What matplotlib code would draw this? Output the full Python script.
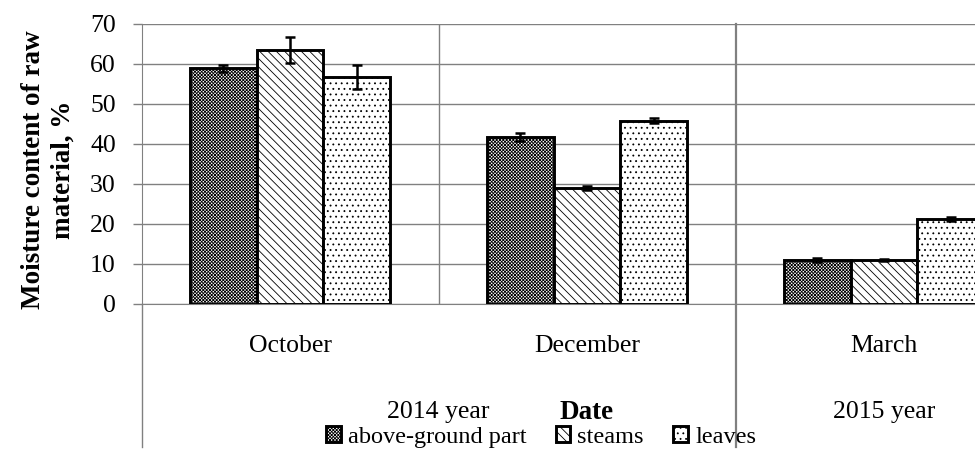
import numpy as np
import matplotlib
matplotlib.use("Agg")
import matplotlib.pyplot as plt
import matplotlib.transforms as mtransforms

plt.rcParams['font.family'] = ['Liberation Serif', 'DejaVu Serif']
plt.rcParams['hatch.linewidth'] = 0.6

months = ['October', 'December', 'March']
series = ['above-ground part', 'steams', 'leaves']
above_ground = [58.9, 41.8, 11.0]
steams = [63.5, 29.0, 11.0]
leaves = [56.7, 45.8, 21.2]
above_ground_err = [0.9, 1.0, 0.4]
steams_err = [3.3, 0.5, 0.3]
leaves_err = [3.0, 0.6, 0.5]
years = ['2014 year', '2015 year']

values = [above_ground, steams, leaves]
errors = [above_ground_err, steams_err, leaves_err]
hatches = ['xxxxxxxxxx', '\\\\\\\\', '...']
GREY = '#808080'

fig = plt.figure(figsize=(9.75, 4.49), dpi=100)
ax = fig.add_axes([141.5 / 975, 145 / 449, 891 / 975, 280 / 449])

x = np.arange(len(months))
width = 0.224
for i, (vals, errs) in enumerate(zip(values, errors)):
    ax.bar(x + (i - 1) * width, vals, width, yerr=errs, label=series[i],
           color='white', edgecolor='black', linewidth=2.1, hatch=hatches[i],
           zorder=3, error_kw=dict(ecolor='black', elinewidth=1.8,
                                   capsize=3.8, capthick=1.8, zorder=4))

ax.set_xlim(-0.5, 2.5)
ax.set_ylim(0, 70)
ax.set_yticks(range(0, 80, 10))
ax.yaxis.grid(True, color=GREY, linewidth=1)
ax.set_axisbelow(True)
ax.tick_params(axis='y', direction='out', length=6.5, width=1, color=GREY,
               labelsize=18.5, pad=12)
ax.set_xticks(x, months)
ax.tick_params(axis='x', length=0, labelsize=18.5, pad=22)
for s in ['top', 'right']:
    ax.spines[s].set_visible(False)
ax.spines['left'].set_color(GREY)
ax.spines['bottom'].set_color(GREY)

# month / year separators
ax.axvline(0.5, color=GREY, linewidth=1, zorder=1)
trans = mtransforms.blended_transform_factory(ax.transData, ax.transAxes)
ax.plot([1.5, 1.5], [1.0, -0.51], transform=trans, color=GREY,
        linewidth=1.6, clip_on=False, zorder=1)
ax.plot([-0.5, -0.5], [0.0, -0.51], transform=trans, color=GREY,
        linewidth=1, clip_on=False)

ax.text(0.5, -0.386, years[0], transform=trans, ha='center', va='center', fontsize=18.5)
ax.text(2.0, -0.386, years[1], transform=trans, ha='center', va='center', fontsize=18.5)
ax.text(1.0, -0.386, 'Date', transform=trans, ha='center', va='center',
        fontsize=19.5, fontweight='bold')

ax.set_ylabel('Moisture content of raw\nmaterial, %', fontsize=19.5,
              fontweight='bold', linespacing=1.25)
ax.yaxis.set_label_coords(-0.074, 0.48)

fig.legend(loc='center', bbox_to_anchor=(541 / 975, 1 - 437 / 449), ncol=3,
           frameon=False, fontsize=17.5, handlelength=0.6, handleheight=0.6,
           handletextpad=0.3, columnspacing=1.2, borderpad=0)

fig.savefig('out.png', dpi=100)
